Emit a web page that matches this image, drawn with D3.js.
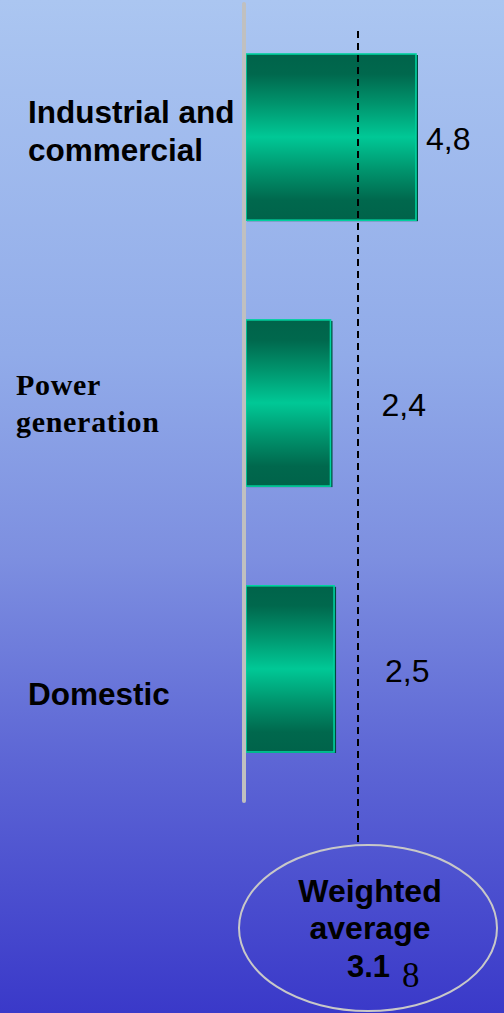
<!DOCTYPE html>
<html>
<head>
<meta charset="utf-8">
<script src="https://cdn.jsdelivr.net/npm/d3@7"></script>
<style>
  html, body { margin: 0; padding: 0; overflow: hidden; }
  svg { display: block; }
</style>
</head>
<body>
<div id="chart"></div>
<script>
// Sector values (comma decimal labels as printed)
const categories = ["Industrial and commercial", "Power generation", "Domestic"];
const categoryLines = [["Industrial and", "commercial"], ["Power", "generation"], ["Domestic"]];
const values = [4.8, 2.4, 2.5];
const valueLabels = ["4,8", "2,4", "2,5"];
const weightedAverage = 3.18;
const averageLines = ["Weighted", "average"];

const W = 504, H = 1013;
const svg = d3.select("#chart").append("svg").attr("width", W).attr("height", H);
const defs = svg.append("defs");

// Background gradient
const bg = defs.append("linearGradient").attr("id", "bg").attr("x1", 0).attr("y1", 0).attr("x2", 0).attr("y2", 1);
[[0, "#abc6f1"], [0.35, "#91abe9"], [0.55, "#7d8fe0"], [0.75, "#5d66d5"], [1, "#3a39c9"]]
  .forEach(([o, c]) => bg.append("stop").attr("offset", o).attr("stop-color", c));
svg.append("rect").attr("width", W).attr("height", H).attr("fill", "url(#bg)");

// Bar gradient (cylinder shading)
const bar = defs.append("linearGradient").attr("id", "barFill").attr("x1", 0).attr("y1", 0).attr("x2", 0).attr("y2", 1);
[[0, "#00634a"], [0.12, "#00684d"], [0.3, "#00946d"], [0.5, "#00c896"], [0.7, "#00946d"], [0.88, "#00684d"], [1, "#00634a"]]
  .forEach(([o, c]) => bar.append("stop").attr("offset", o).attr("stop-color", c));

const x = d3.scaleLinear().domain([0, 4.8]).range([245, 416]);
const y = d3.scaleBand().domain(categories).range([54, 752]).paddingInner(0.375).paddingOuter(0);

// Bars
const g = svg.append("g");
g.selectAll("rect.shadow").data(values).join("rect")
  .attr("class", "shadow")
  .attr("x", x(0) + 2).attr("y", (d, i) => y(categories[i]) + 1)
  .attr("width", d => x(d) - x(0)).attr("height", y.bandwidth())
  .attr("fill", "#004a3c");
g.selectAll("rect.bar").data(values).join("rect")
  .attr("class", "bar")
  .attr("x", x(0) + 1).attr("y", (d, i) => y(categories[i]))
  .attr("width", d => x(d) - x(0) - 1).attr("height", y.bandwidth())
  .attr("fill", "url(#barFill)")
  .attr("stroke", "#00d2a0").attr("stroke-width", 1.6);

// Vertical axis line
svg.append("line")
  .attr("x1", x(0) - 1).attr("x2", x(0) - 1).attr("y1", 4).attr("y2", 801)
  .attr("stroke", "#c0c0c0").attr("stroke-width", 4).attr("stroke-linecap", "round");

// Weighted average dashed line
const avgX = Math.round(x(weightedAverage));
svg.append("line")
  .attr("x1", avgX).attr("x2", avgX).attr("y1", 31).attr("y2", 843)
  .attr("stroke", "#000").attr("stroke-width", 2).attr("stroke-dasharray", "7,5");

// Value labels
svg.selectAll("text.val").data(values).join("text")
  .attr("class", "val")
  .attr("x", (d, i) => x(d) + (i === 0 ? 10 : 51))
  .attr("y", (d, i) => y(categories[i]) + y.bandwidth() / 2 + 13)
  .attr("font-family", "Liberation Sans, Arial, sans-serif").attr("font-size", 32)
  .attr("fill", "#000")
  .text((d, i) => valueLabels[i]);

// Category labels
const catFonts = [
  { family: "Liberation Sans, Arial, sans-serif", x: 28, lh: 38, y0: 123, size: 31.5, ls: 0 },
  { family: "Liberation Serif, Times New Roman, serif", x: 16, lh: 37, y0: 395, size: 30, ls: 0.7 },
  { family: "Liberation Sans, Arial, sans-serif", x: 28, lh: 38, y0: 705, size: 31.5, ls: 0 }
];
categoryLines.forEach((lines, i) => {
  const f = catFonts[i];
  const t = svg.append("text")
    .attr("font-family", f.family).attr("font-weight", "bold").attr("font-size", f.size)
    .attr("letter-spacing", f.ls).attr("fill", "#000");
  lines.forEach((ln, j) => t.append("tspan").attr("x", f.x).attr("y", f.y0 + j * f.lh).text(ln));
});

// Weighted average callout
const cx = 368, cy = 928;
svg.append("ellipse")
  .attr("cx", cx).attr("cy", cy).attr("rx", 129).attr("ry", 83)
  .attr("fill", "none").attr("stroke", "#c8c8c8").attr("stroke-width", 2);
const avgText = svg.append("text")
  .attr("font-family", "Liberation Sans, Arial, sans-serif").attr("font-weight", "bold")
  .attr("font-size", 32).attr("fill", "#000").attr("text-anchor", "middle");
averageLines.forEach((ln, j) => avgText.append("tspan").attr("x", 370).attr("y", 902 + j * 37).text(ln));

const avgStr = String(weightedAverage);
svg.append("text")
  .attr("x", 347).attr("y", 977)
  .attr("font-family", "Liberation Sans, Arial, sans-serif").attr("font-weight", "bold")
  .attr("font-size", 31).attr("fill", "#000")
  .text(avgStr.slice(0, -1));
svg.append("text")
  .attr("x", 402).attr("y", 987)
  .attr("font-family", "Liberation Serif, Times New Roman, serif")
  .attr("font-size", 35).attr("fill", "#000")
  .text(avgStr.slice(-1));
</script>
</body>
</html>
